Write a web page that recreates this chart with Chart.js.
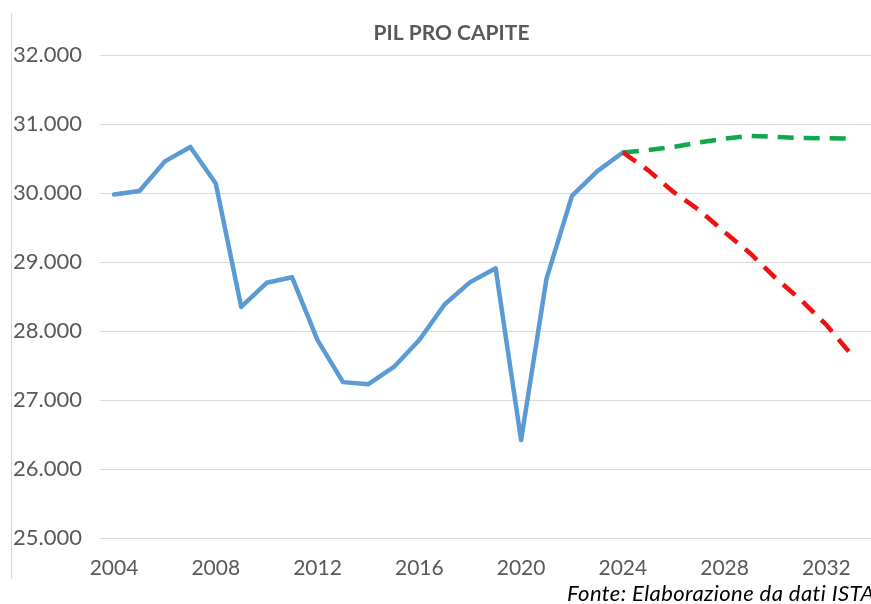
<!DOCTYPE html>
<html>
<head>
<meta charset="utf-8">
<script src="https://cdn.jsdelivr.net/npm/chart.js@4"></script>
<style>
  html, body { margin: 0; padding: 0; background: #fff; width: 871px; height: 604px; overflow: hidden; }
  #frame { position: absolute; left: 11px; top: 13px; width: 1px; height: 566px; background: #d9d9d9; }
  #wrap { position: absolute; left: 11px; top: 13px; width: 879px; height: 569px; }
  #source { position: absolute; left: 567px; top: 579px; font: italic 22px Lato, sans-serif; letter-spacing: 0.4px; color: #000; white-space: nowrap; }
</style>
</head>
<body>
<div id="frame"></div>
<div id="wrap"><canvas id="pilChart"></canvas></div>
<div id="source">Fonte: Elaborazione da dati ISTAT</div>
<script>
const histYears = [2004, 2005, 2006, 2007, 2008, 2009, 2010, 2011, 2012, 2013, 2014,
  2015, 2016, 2017, 2018, 2019, 2020, 2021, 2022, 2023, 2024];
const histValues = [29980, 30030, 30460, 30670, 30140, 28350, 28700, 28780, 27870, 27260, 27230,
  27480, 27870, 28390, 28710, 28910, 26420, 28760, 29960, 30320, 30590];

const projYears = [2024, 2025, 2026, 2027, 2028, 2029, 2030, 2031, 2032, 2033];
const greenValues = [30590, 30625, 30670, 30735, 30790, 30830, 30815, 30800, 30795, 30790];
const redValues = [30590, 30330, 30015, 29755, 29435, 29130, 28770, 28450, 28090, 27650];

const tickYears = [2004, 2008, 2012, 2016, 2020, 2024, 2028, 2032];

const toPoints = (xs, ys) => xs.map((x, i) => ({ x: x, y: ys[i] }));

const ctx = document.getElementById('pilChart').getContext('2d');
new Chart(ctx, {
  type: 'line',
  data: {
    datasets: [{
      label: 'Scenario negativo',
      data: toPoints(projYears, redValues),
      borderColor: '#ee1111',
      borderWidth: 4.5,
      borderDash: [16, 10],
      pointRadius: 0,
      tension: 0
    }, {
      label: 'Scenario positivo',
      data: toPoints(projYears, greenValues),
      borderColor: '#0fa84a',
      borderWidth: 4.5,
      borderDash: [16, 10],
      pointRadius: 0,
      tension: 0
    }, {
      label: 'PIL pro capite',
      data: toPoints(histYears, histValues),
      borderColor: '#5b9bd5',
      borderWidth: 4.5,
      borderJoinStyle: 'round',
      borderCapStyle: 'round',
      pointRadius: 0,
      tension: 0
    }]
  },
  options: {
    responsive: true,
    maintainAspectRatio: false,
    animation: false,
    layout: { padding: { left: 2, right: 0, top: 0, bottom: 0 } },
    plugins: {
      legend: { display: false },
      tooltip: { enabled: false },
      title: {
        display: true,
        text: 'PIL PRO CAPITE',
        color: '#595959',
        font: { family: 'Lato', size: 21, weight: 'bold' },
        padding: { top: 8, bottom: 9 }
      }
    },
    scales: {
      x: {
        type: 'linear',
        min: 2003.45,
        max: 2034.5,
        afterBuildTicks: axis => { axis.ticks = tickYears.map(v => ({ value: v })); },
        afterFit: axis => { axis.height = 44; },
        grid: { display: false, drawTicks: false },
        border: { display: false },
        ticks: {
          color: '#595959',
          font: { family: 'Lato', size: 21 },
          padding: 18,
          maxRotation: 0,
          autoSkip: false,
          callback: v => String(v)
        }
      },
      y: {
        min: 25000,
        max: 32000,
        afterFit: axis => { axis.width = 87; },
        grid: { color: '#d9d9d9', drawTicks: false },
        border: { display: false },
        ticks: {
          stepSize: 1000,
          color: '#595959',
          font: { family: 'Lato', size: 22 },
          crossAlign: 'far',
          padding: 20,
          callback: v => (v / 1000).toFixed(3)
        }
      }
    }
  }
});
</script>
</body>
</html>
